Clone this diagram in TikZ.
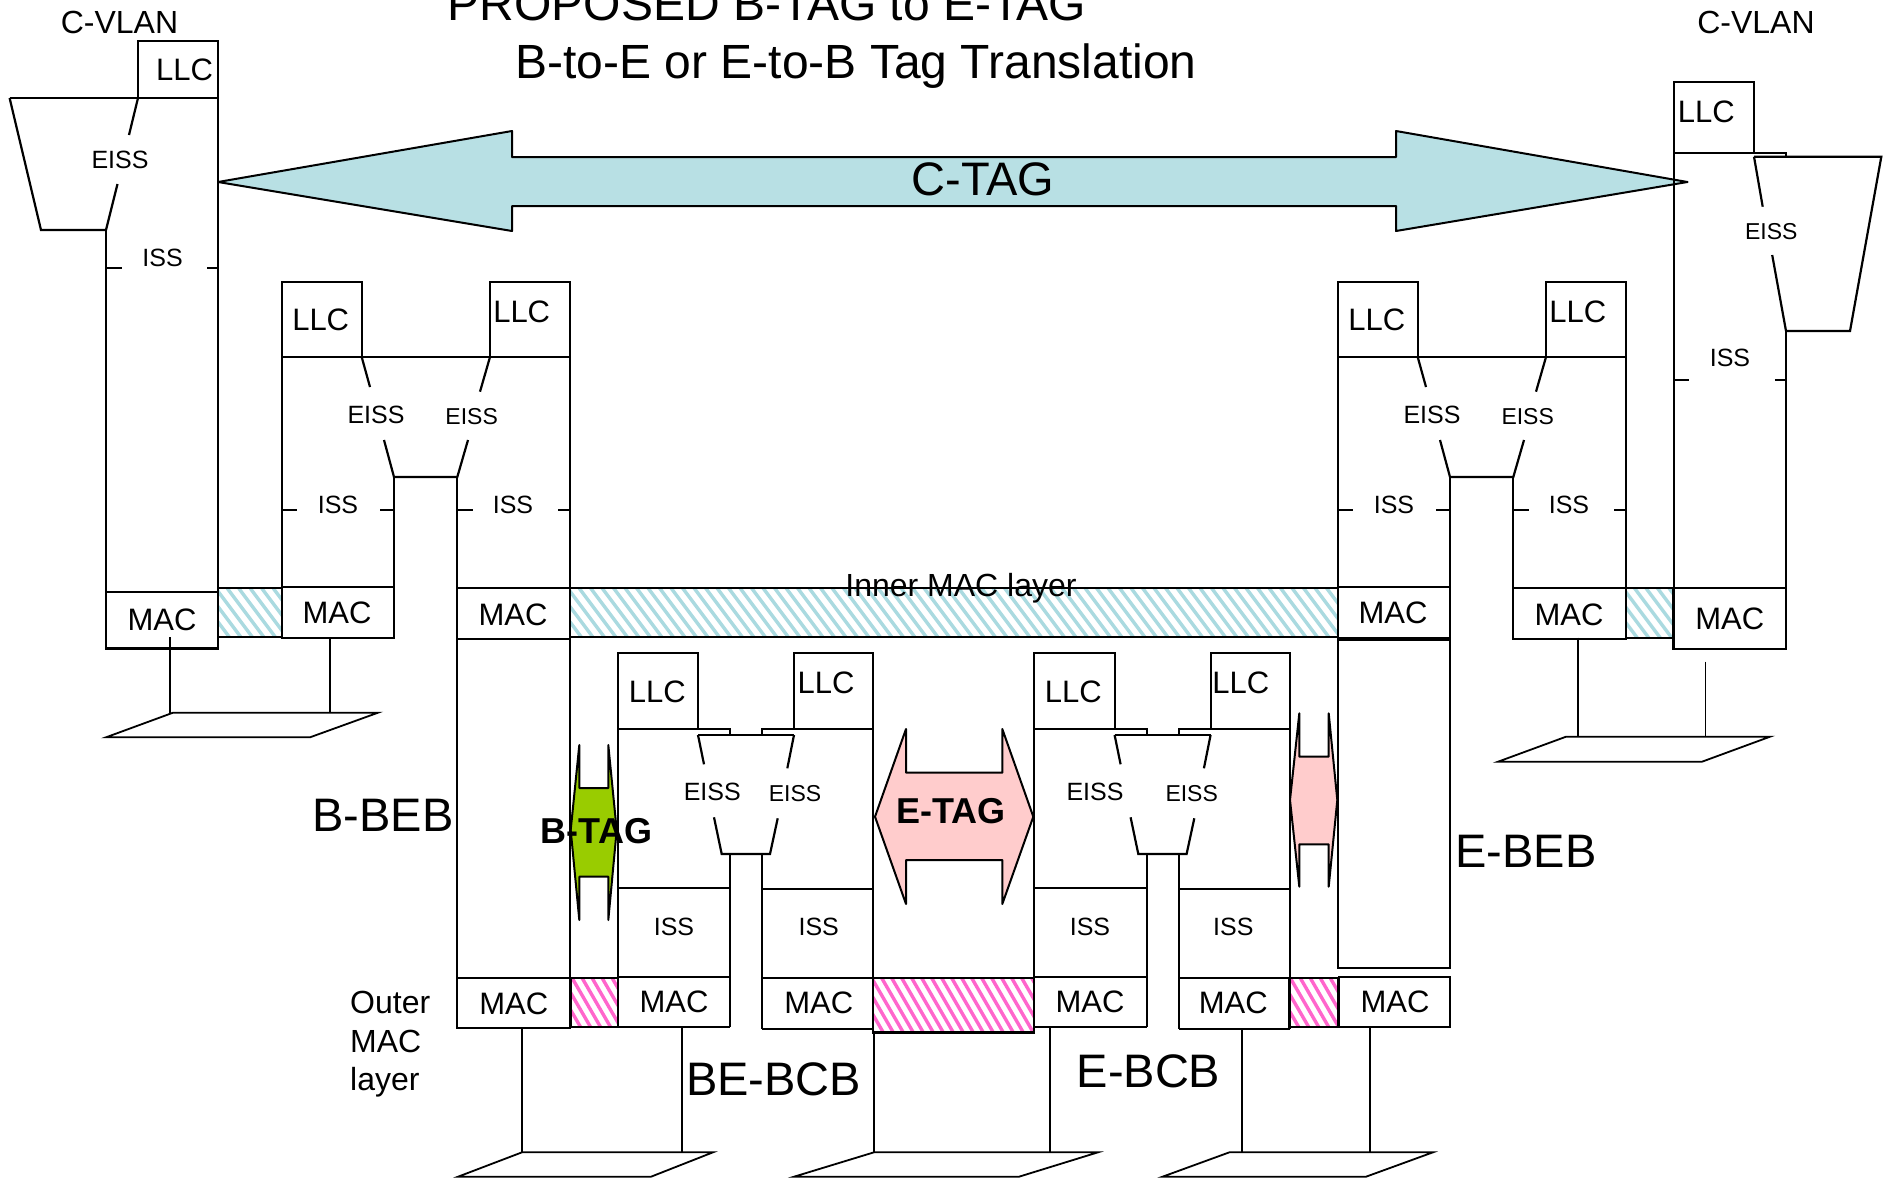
\documentclass[tikz,border=0pt]{standalone}
\usepackage{fontspec}
\setmainfont{Liberation Sans}
\newcommand{\fsz}[1]{\fontsize{#1}{#1}\selectfont}
\definecolor{ctagfill}{RGB}{184,224,228}
\definecolor{cyanhatch}{RGB}{170,218,224}
\definecolor{btaggreen}{RGB}{153,204,0}
\definecolor{pinkfill}{RGB}{255,204,204}
\definecolor{pinkhatch}{RGB}{255,102,204}

% hatched bar: x1,y1,x2,y2,colour,spacing,dx-per-height
\newcommand{\hatchrect}[7]{%
  \begin{scope}
    \clip (#1,#2) rectangle (#3,#4);
    \pgfmathsetmacro{\hhgt}{#4-#2}
    \pgfmathsetmacro{\hdx}{\hhgt*#7}
    \pgfmathsetmacro{\hstart}{#1-\hdx-#6}
    \pgfmathsetmacro{\hsecond}{\hstart+#6}
    \foreach \hx in {\hstart,\hsecond,...,#3} {
      \draw[#5, line width=3.4pt] (\hx,#2) -- ++(\hdx,\hhgt);
    }
  \end{scope}
  \draw[ln] (#1,#2) rectangle (#3,#4);
}

% B-BEB / E-BEB upper stack
\newcommand{\bebstack}[2]{%
  \begin{scope}[xshift=#1pt]
    \draw[ln] (281.7,281.7) rectangle (361.7,357);
    \draw[ln] (490,281.7) rectangle (570,357);
    \draw[ln] (281.7,357) -- (570,357);
    \draw[ln] (281.7,357) -- (281.7,637.7);
    \draw[ln] (394,477) -- (394,637.7);
    \draw[ln] (457.3,477) -- (457.3,639);
    \draw[ln] (570,357) -- (570,639);
    \draw[ln] (361.7,357) -- (370,387);
    \draw[ln] (384,440) -- (394,477) -- (457.3,477) -- (468,440);
    \draw[ln] (480,391.7) -- (490,357);
    \draw[ln] (281.7,510) -- (296.7,510) (380,510) -- (394,510)
              (457.3,510) -- (473,510) (558,510) -- (570,510);
    \draw[ln] (281.7,587) rectangle (394,637.7);
    \draw[ln] (457.3,587.7) rectangle (570,639);
    \node[lbl] (#2llcA) at (320.7,320) {LLC};
    \node[lbl] (#2llcB) at (521.7,311.7) {LLC};
    \node[sm]  (#2eissA) at (376,415) {EISS};
    \node[sm2] (#2eissB) at (471.7,416.7) {EISS};
    \node[sm]  (#2issA) at (338,505) {ISS};
    \node[sm]  (#2issB) at (513,505) {ISS};
    \node[lbl] (#2macA) at (337,612.7) {MAC};
    \node[lbl] (#2macB) at (513,615) {MAC};
  \end{scope}
}

% BE-BCB / E-BCB shapes
\newcommand{\bcbshapes}[1]{%
  \begin{scope}[xshift=#1pt]
    \draw[ln] (617.7,653.3) rectangle (698,729);
    \draw[ln] (794,653.3) rectangle (873.3,729);
    \draw[ln] (617.7,729) -- (730,729) -- (730,735);
    \draw[ln] (762,735) -- (762,729) -- (873.3,729);
    \draw[ln] (698,735) -- (794,735);
    \draw[ln] (698,735) -- (704,764.3);
    \draw[ln] (714,817.3) -- (721.7,854) -- (770,854) -- (777.7,818.3);
    \draw[ln] (787.3,768.3) -- (794,735);
    \draw[ln] (617.7,653.3) -- (617.7,1027.3);
    \draw[ln] (730,854) -- (730,1027.3);
    \draw[ln] (617.7,888.3) -- (730,888.3);
    \draw[ln] (617.7,976.7) -- (730,976.7);
    \draw[ln] (617.7,1027.3) -- (730,1027.3);
    \draw[ln] (762,854) -- (762,1029);
    \draw[ln] (873.3,653.3) -- (873.3,1029);
    \draw[ln] (762,889) -- (873.3,889);
    \draw[ln] (762,977.7) -- (873.3,977.7);
    \draw[ln] (762,1029) -- (873.3,1029);
  \end{scope}
}

\begin{document}
\begin{tikzpicture}[x=1pt,y=-1pt,
  ln/.style={line width=2.2pt, line join=miter},
  lan/.style={line width=1.8pt},
  arr/.style={line width=2pt, line join=round},
  lbl/.style={inner sep=0pt, font=\fsz{31}},
  sm/.style={inner sep=0pt, font=\fsz{25}},
  sm2/.style={inner sep=0pt, font=\fsz{23}},
  mid/.style={inner sep=0pt, font=\fsz{32}},
  big/.style={inner sep=0pt, font=\fsz{47}},
  ttl/.style={inner sep=0pt, font=\fsz{48}},
  tagtxt/.style={inner sep=0pt, font=\fsz{36}\bfseries},
]
\useasboundingbox (0,0) rectangle (1890,1179);
\fill[white] (0,0) rectangle (1890,1179);

% ---------- title ----------
\node[ttl, anchor=base] (title1) at (767,20) {PROPOSED B-TAG to E-TAG};
\node[ttl, anchor=base] (title2) at (856,78) {B-to-E or E-to-B Tag Translation};
\node[mid, anchor=base] (cvlanL) at (119.5,33) {C-VLAN};
\node[mid, anchor=base] (cvlanR) at (1756,33.3) {C-VLAN};

% ---------- C-TAG arrow ----------
\draw[arr, fill=ctagfill] (218,182) -- (512,131) -- (512,157) -- (1396,157) -- (1396,131)
  -- (1687.5,182) -- (1396,231) -- (1396,206) -- (512,206) -- (512,231) -- cycle;
\node[big, anchor=base] (ctag) at (983,195) {C-TAG};

% ---------- hatched MAC layers ----------
\hatchrect{218}{588.3}{281.7}{637.3}{cyanhatch}{11.5}{0.75}
\hatchrect{570}{587.7}{1337.7}{637.3}{cyanhatch}{11.5}{0.75}
\hatchrect{1625.7}{588}{1673.3}{637.7}{cyanhatch}{11.5}{0.75}
\hatchrect{570.7}{978}{617.7}{1027.3}{pinkhatch}{10}{0.58}
\hatchrect{873.3}{978.3}{1034.3}{1032.5}{pinkhatch}{10}{0.58}
\hatchrect{1288.7}{978}{1338.3}{1027}{pinkhatch}{10}{0.58}

% ---------- tag arrows ----------
\draw[arr, fill=btaggreen] (570.7,830) -- (579.3,745) -- (579.3,788) -- (608.3,788) -- (608.3,745)
  -- (616.7,830) -- (608.3,920) -- (608.3,876.7) -- (579.3,876.7) -- (579.3,920) -- cycle;
\draw[arr, fill=pinkfill] (875,816.7) -- (906,729) -- (906,772.7) -- (1002.3,772.7) -- (1002.3,729)
  -- (1033.3,816.7) -- (1002.3,904) -- (1002.3,860) -- (906,860) -- (906,904) -- cycle;
\draw[arr, fill=pinkfill] (1290,800) -- (1299.3,713.3) -- (1299.3,756.7) -- (1328.7,756.7) -- (1328.7,713.3)
  -- (1337.3,800) -- (1328.7,886.7) -- (1328.7,844.3) -- (1299.3,844.3) -- (1299.3,886.7) -- cycle;

% ---------- left C-VLAN stack ----------
\draw[ln] (138,41) rectangle (218,98);
\draw[ln] (9.6,98) -- (218,98);
\draw[ln] (9.6,98) -- (41,230) -- (106,230);
\draw[ln] (138,98) -- (129,135);
\draw[ln] (117.5,184) -- (106,230);
\draw[ln] (106,230) -- (106,648.5);
\draw[ln] (218,41) -- (218,648.5);
\draw[ln] (106,268) -- (122,268) (207,268) -- (218,268);
\draw[ln] (106,592) rectangle (218,648.5);
\node[lbl] (llcL) at (184.6,70) {LLC};
\node[sm] (eissL) at (120,160) {EISS};
\node[sm] (issL) at (162.6,257.5) {ISS};
\node[lbl] (macL) at (162,620) {MAC};

% ---------- B-BEB and E-BEB stacks ----------
\bebstack{0}{bb}
\bebstack{1056}{eb}
% B-BEB lower column with outer MAC
\draw[ln] (457.3,639) -- (457.3,1028);
\draw[ln] (570,639) -- (570,1028);
\draw[ln] (457.3,978) rectangle (570,1028);
\node[lbl] (bbOuterMac) at (513.8,1004) {MAC};
% E-BEB lower column with outer MAC
\draw[ln] (1338.3,640) rectangle (1450,968.3);
\draw[ln] (1339.3,976.7) rectangle (1450,1026.7);
\node[lbl] (ebOuterMac) at (1395,1001.7) {MAC};

% ---------- right C-VLAN stack ----------
\draw[ln] (1673.6,81.7) rectangle (1754,153.3);
\draw[ln] (1673.6,153.3) -- (1786,153.3) -- (1786,156.7);
\draw[ln] (1754,156.7) -- (1881.3,156.7) -- (1850,331) -- (1786,331);
\draw[ln] (1754,156.7) -- (1762.7,206.7);
\draw[ln] (1772.2,255) -- (1786,331);
\draw[ln] (1673.6,153.3) -- (1673.6,649.3);
\draw[ln] (1786,331) -- (1786,649.3);
\draw[ln] (1673.6,380) -- (1689.4,380) (1774.8,380) -- (1786,380);
\draw[ln] (1673.3,588.3) rectangle (1786.2,649.3);
\node[lbl] (llcR) at (1706.3,111.7) {LLC};
\node[sm2] (eissR) at (1771.2,231.7) {EISS};
\node[sm] (issR) at (1730,357.7) {ISS};
\node[lbl] (macR) at (1729.7,619.3) {MAC};

% ---------- BE-BCB and E-BCB ----------
\bcbshapes{0}
\bcbshapes{416.6}
\node[lbl] (beLlcA) at (657.3,691.7) {LLC};
\node[lbl] (beLlcB) at (826,683.3) {LLC};
\node[sm]  (beEissA) at (712.3,791.7) {EISS};
\node[sm2] (beEissB) at (795,794) {EISS};
\node[sm]  (beIssA) at (674,926.7) {ISS};
\node[sm]  (beIssB) at (818.7,926.7) {ISS};
\node[lbl] (beMacA) at (674,1001.7) {MAC};
\node[lbl] (beMacB) at (818.7,1003.3) {MAC};
\node[lbl] (eLlcA) at (1073.3,691.7) {LLC};
\node[lbl] (eLlcB) at (1240.7,683.3) {LLC};
\node[sm]  (eEissA) at (1095,791.7) {EISS};
\node[sm2] (eEissB) at (1191.7,794) {EISS};
\node[sm]  (eIssA) at (1090,926.7) {ISS};
\node[sm]  (eIssB) at (1233.3,926.7) {ISS};
\node[lbl] (eMacA) at (1090,1001.7) {MAC};
\node[lbl] (eMacB) at (1233.3,1003.3) {MAC};

% ---------- LAN segments ----------
\draw[lan] (170,637) -- (170,712.7);
\draw[lan] (330,637.7) -- (330,712.7);
\draw[lan] (173,712.7) -- (378,712.7) -- (310,737.3) -- (106,737.3) -- cycle;

\draw[lan] (1577.6,637.7) -- (1577.6,736.7);
\draw[lan] (1705.5,661.7) -- (1705.5,736.7);
\draw[lan] (1566,736.7) -- (1770,736.7) -- (1702,761.7) -- (1498,761.7) -- cycle;

\draw[lan] (522,1028) -- (522,1152.3);
\draw[lan] (681.6,1027.3) -- (681.6,1152.3);
\draw[lan] (522,1152.3) -- (713,1152.3) -- (651,1176.7) -- (458,1176.7) -- cycle;

\draw[lan] (874,1032.5) -- (874,1152.3);
\draw[lan] (1050,1027.3) -- (1050,1152.3);
\draw[lan] (874,1152.3) -- (1098,1152.3) -- (1019,1176.7) -- (794,1176.7) -- cycle;

\draw[lan] (1241.7,1029) -- (1241.7,1152.3);
\draw[lan] (1369.8,1026.7) -- (1369.8,1152.3);
\draw[lan] (1229.4,1152.3) -- (1433,1152.3) -- (1366,1176.7) -- (1162.5,1176.7) -- cycle;

% ---------- labels ----------
\node[mid, anchor=base] (innerMac) at (961,596.5) {Inner MAC layer};
\node[tagtxt] (btag) at (596.5,830.8) {B-TAG};
\node[tagtxt] (etag) at (950.8,810.8) {E-TAG};
\node[big] (bbeb) at (383,815) {B-BEB};
\node[big] (ebeb) at (1526,851) {E-BEB};
\node[big] (bebcb) at (773.5,1079) {BE-BCB};
\node[big] (ebcb) at (1148.5,1071.5) {E-BCB};
\node[mid, anchor=base west] (outer1) at (350,1013) {Outer};
\node[mid, anchor=base west] (outer2) at (350,1052) {MAC};
\node[mid, anchor=base west] (outer3) at (350,1090) {layer};
\end{tikzpicture}
\end{document}
